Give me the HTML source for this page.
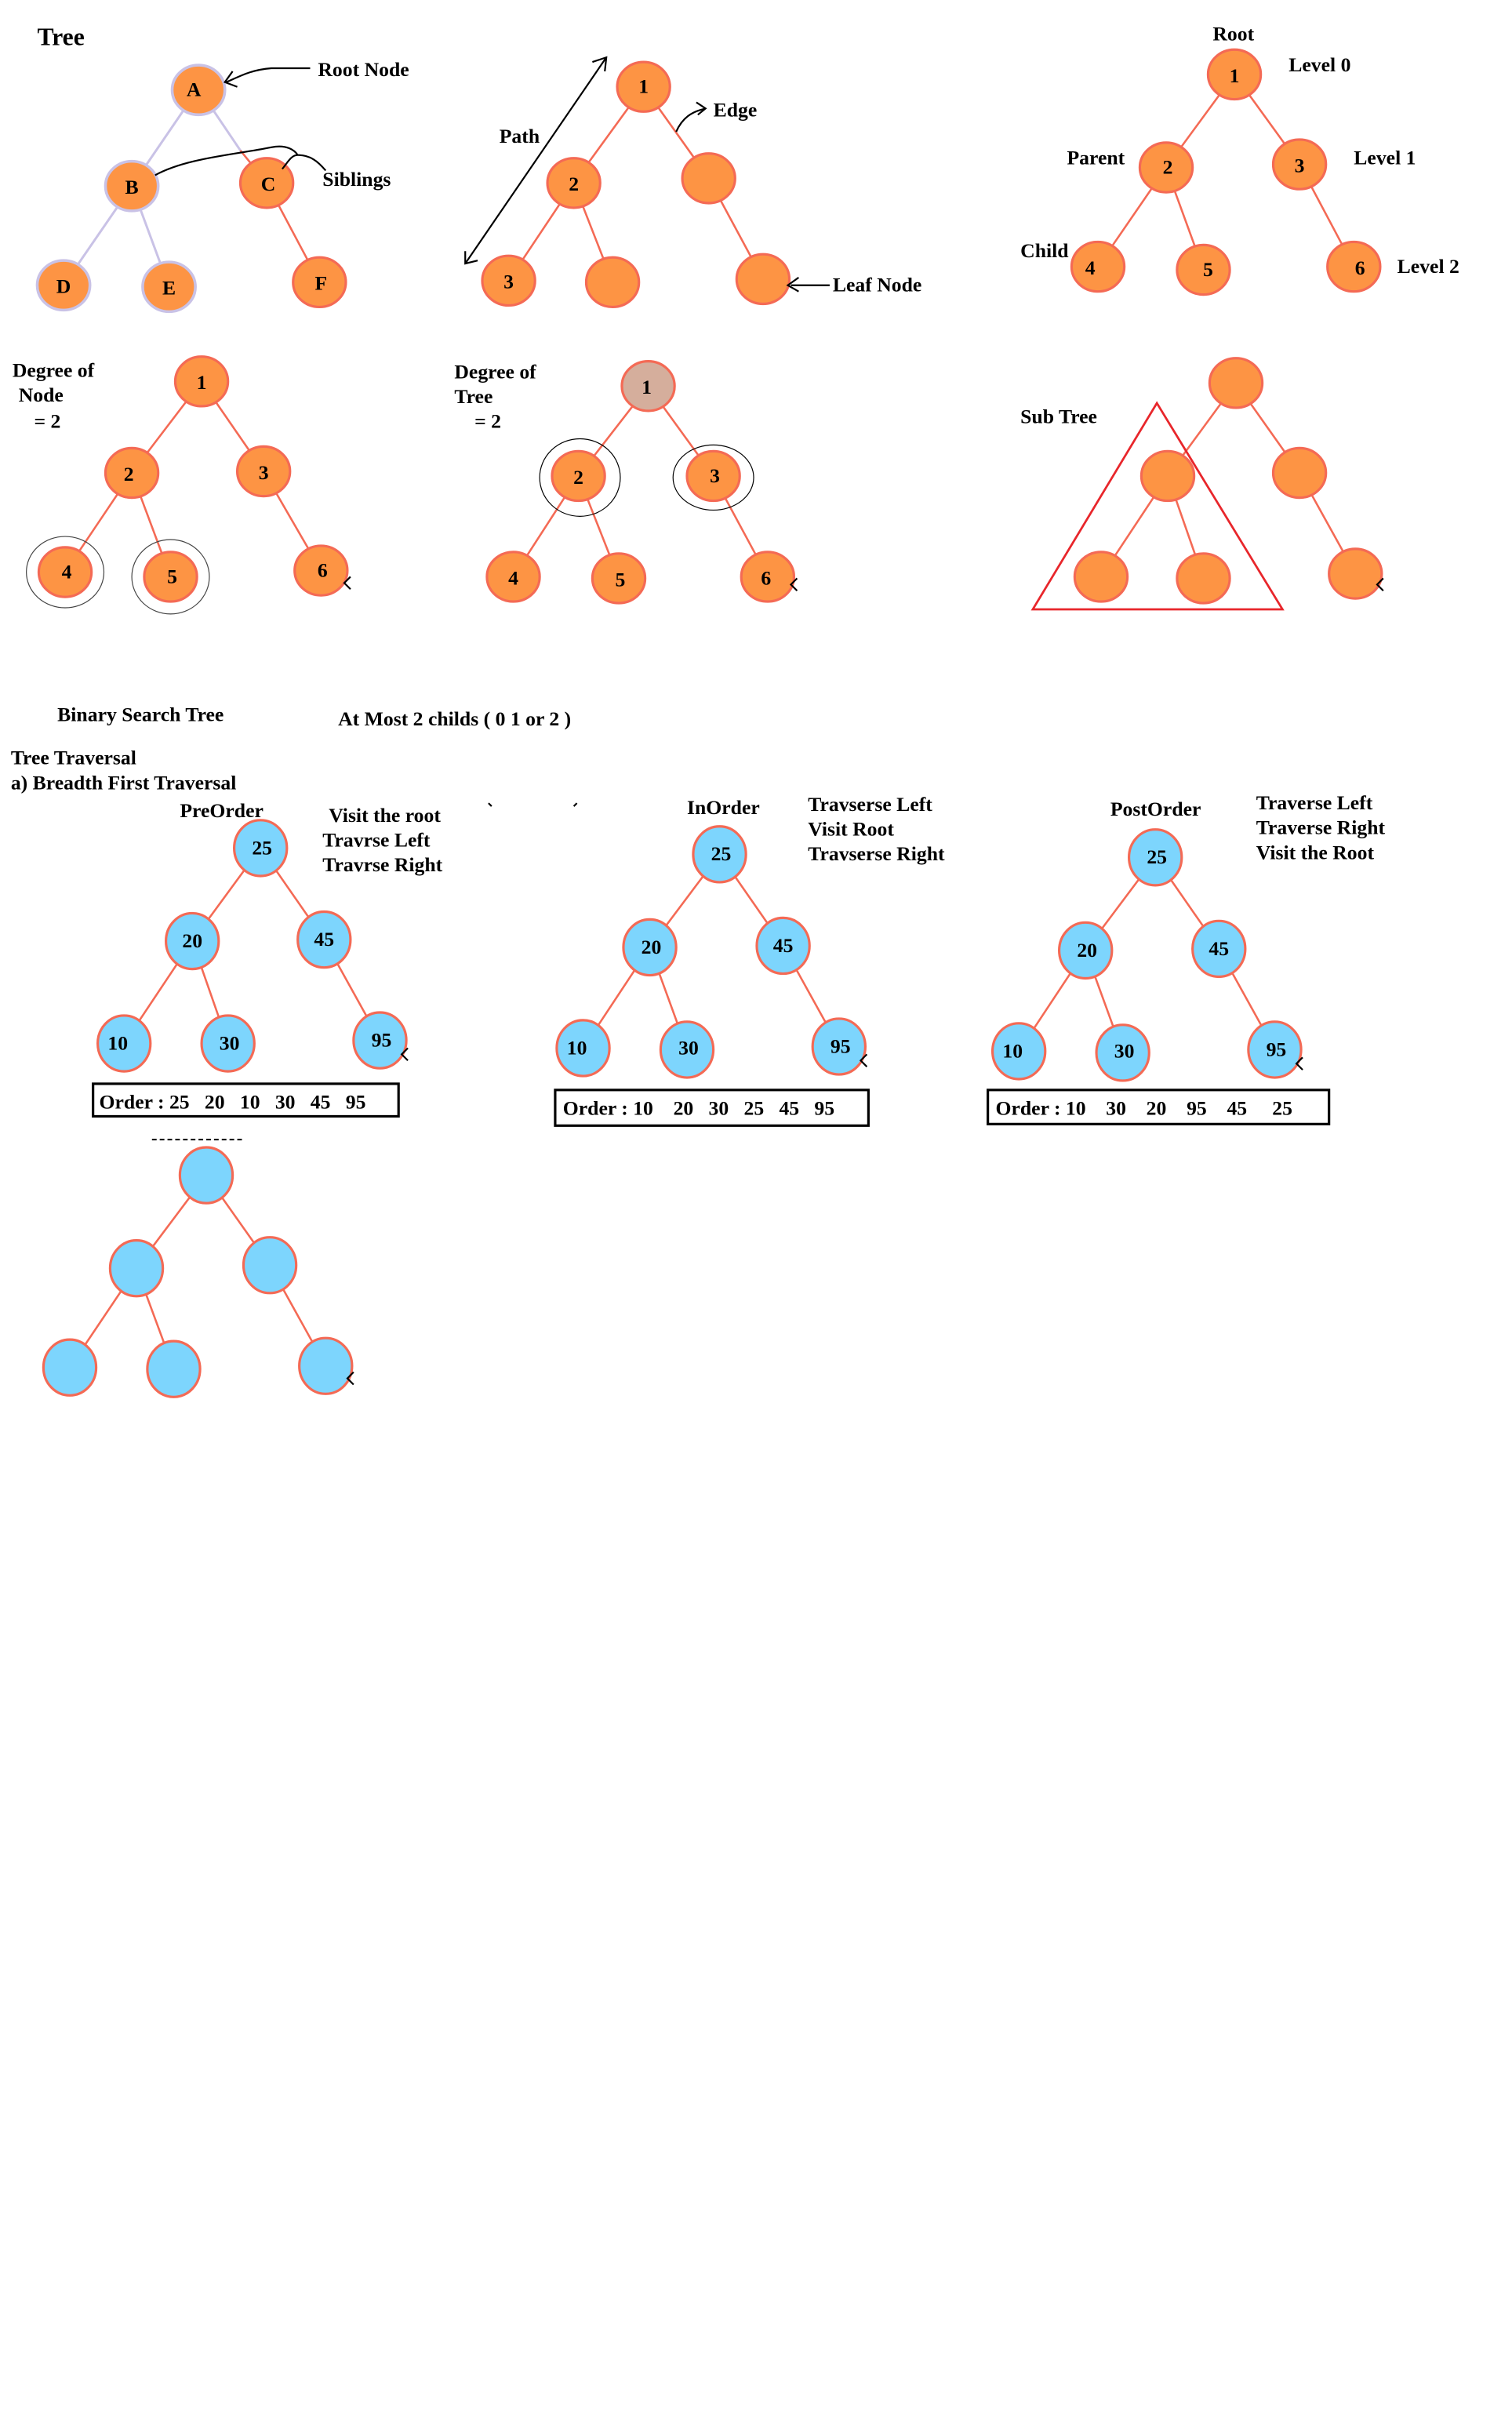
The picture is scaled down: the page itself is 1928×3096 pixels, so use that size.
<!DOCTYPE html>
<html><head><meta charset="utf-8">
<style>
html,body{margin:0;padding:0;background:#fff;}
svg{display:block;}
text{font-family:"Liberation Serif",serif;font-weight:bold;fill:#000;}
</style></head>
<body>
<svg width="1928" height="3096" viewBox="0 0 975 1566" preserveAspectRatio="none" xmlns="http://www.w3.org/2000/svg">
<defs>
<style>
.o{fill:#fd9444;stroke:#f46a55;stroke-width:1.6;}
.ol{fill:#fd9444;stroke:#c9c2e6;stroke-width:1.8;}
.b{fill:#7dd5fd;stroke:#f46a55;stroke-width:1.6;}
.e{stroke:#f46a55;stroke-width:1.3;fill:none;}
.el{stroke:#c9c2e6;stroke-width:1.5;fill:none;}
.n{font-size:13px;text-anchor:middle;}
.t{font-size:13px;}
.k{stroke:#000;stroke-width:1.1;fill:none;}
</style>
</defs>

<!-- Tree 1 -->
<text x="24" y="29" style="font-size:16px">Tree</text>
<line class="el" x1="128" y1="57" x2="85" y2="120"/>
<line class="el" x1="128" y1="57" x2="155" y2="97"/>
<line class="e" x1="155" y1="97" x2="172" y2="118"/>
<line class="el" x1="85" y1="120" x2="41" y2="184"/>
<line class="el" x1="85" y1="120" x2="109" y2="185"/>
<line class="e" x1="172" y1="118" x2="206" y2="182"/>
<ellipse class="ol" cx="128" cy="58" rx="17" ry="16"/>
<ellipse class="ol" cx="85" cy="120" rx="17" ry="16"/>
<ellipse class="o" cx="172" cy="118" rx="17" ry="16"/>
<ellipse class="ol" cx="41" cy="184" rx="17" ry="16"/>
<ellipse class="ol" cx="109" cy="185" rx="17" ry="16"/>
<ellipse class="o" cx="206" cy="182" rx="17" ry="16"/>
<text class="n" x="125" y="62">A</text>
<text class="n" x="85" y="125">B</text>
<text class="n" x="173" y="123">C</text>
<text class="n" x="41" y="189">D</text>
<text class="n" x="109" y="190">E</text>
<text class="n" x="207" y="187">F</text>
<text class="t" x="205" y="49">Root Node</text>
<path class="k" d="M200,44 L175,44 C162,45 155,49 146,53 M150,46 L145,53 L153,56"/>
<text class="t" x="208" y="120">Siblings</text>
<path class="k" d="M100,113 C120,102 150,100 175,95 C185,93 190,97 192,100 M182,109 C186,104 188,100 192,100 C200,100 205,104 210,110"/>

<!-- Tree 2 -->
<line class="e" x1="415" y1="56" x2="370" y2="118"/>
<line class="e" x1="415" y1="56" x2="457" y2="115"/>
<line class="e" x1="370" y1="118" x2="328" y2="181"/>
<line class="e" x1="370" y1="118" x2="395" y2="182"/>
<line class="e" x1="457" y1="115" x2="492" y2="180"/>
<ellipse class="o" cx="415" cy="56" rx="17" ry="16"/>
<ellipse class="o" cx="370" cy="118" rx="17" ry="16"/>
<ellipse class="o" cx="457" cy="115" rx="17" ry="16"/>
<ellipse class="o" cx="328" cy="181" rx="17" ry="16"/>
<ellipse class="o" cx="395" cy="182" rx="17" ry="16"/>
<ellipse class="o" cx="492" cy="180" rx="17" ry="16"/>
<text class="n" x="415" y="60">1</text>
<text class="n" x="370" y="123">2</text>
<text class="n" x="328" y="186">3</text>
<path class="k" d="M300,170 L391,37 M382,40 L391,37 L390,46 M300,162 L300,170 L308,168"/>
<text class="t" x="322" y="92">Path</text>
<path class="k" d="M436,85 C440,76 446,72 455,70 M449,66 L455,70 L450,74"/>
<text class="t" x="460" y="75">Edge</text>
<path class="k" d="M535,184 L510,184 M515,179 L508,184 L515,188"/>
<text class="t" x="537" y="188">Leaf Node</text>

<!-- Tree 3 -->
<text class="t" x="782" y="26">Root</text>
<line class="e" x1="796" y1="48" x2="752" y2="108"/>
<line class="e" x1="796" y1="48" x2="838" y2="106"/>
<line class="e" x1="752" y1="108" x2="708" y2="172"/>
<line class="e" x1="752" y1="108" x2="776" y2="174"/>
<line class="e" x1="838" y1="106" x2="873" y2="172"/>
<ellipse class="o" cx="796" cy="48" rx="17" ry="16"/>
<ellipse class="o" cx="752" cy="108" rx="17" ry="16"/>
<ellipse class="o" cx="838" cy="106" rx="17" ry="16"/>
<ellipse class="o" cx="708" cy="172" rx="17" ry="16"/>
<ellipse class="o" cx="776" cy="174" rx="17" ry="16"/>
<ellipse class="o" cx="873" cy="172" rx="17" ry="16"/>
<text class="n" x="796" y="53">1</text>
<text class="n" x="753" y="112">2</text>
<text class="n" x="838" y="111">3</text>
<text class="n" x="703" y="177">4</text>
<text class="n" x="779" y="178">5</text>
<text class="n" x="877" y="177">6</text>
<text class="t" x="831" y="46">Level 0</text>
<text class="t" x="688" y="106">Parent</text>
<text class="t" x="873" y="106">Level 1</text>
<text class="t" x="658" y="166">Child</text>
<text class="t" x="901" y="176">Level 2</text>

<!-- Degree of Node -->
<text class="t" x="8" y="243">Degree of</text>
<text class="t" x="12" y="259">Node</text>
<text class="t" x="22" y="276">= 2</text>
<line class="e" x1="130" y1="246" x2="85" y2="305"/>
<line class="e" x1="130" y1="246" x2="170" y2="304"/>
<line class="e" x1="85" y1="305" x2="42" y2="369"/>
<line class="e" x1="85" y1="305" x2="110" y2="372"/>
<line class="e" x1="170" y1="304" x2="207" y2="368"/>
<ellipse class="o" cx="130" cy="246" rx="17" ry="16"/>
<ellipse class="o" cx="85" cy="305" rx="17" ry="16"/>
<ellipse class="o" cx="170" cy="304" rx="17" ry="16"/>
<ellipse class="o" cx="42" cy="369" rx="17" ry="16"/>
<ellipse class="o" cx="110" cy="372" rx="17" ry="16"/>
<ellipse class="o" cx="207" cy="368" rx="17" ry="16"/>
<ellipse cx="42" cy="369" rx="25" ry="23" fill="none" stroke="#444" stroke-width="0.6"/>
<ellipse cx="110" cy="372" rx="25" ry="24" fill="none" stroke="#444" stroke-width="0.6"/>
<text class="n" x="130" y="251">1</text>
<text class="n" x="83" y="310">2</text>
<text class="n" x="170" y="309">3</text>
<text class="n" x="43" y="373">4</text>
<text class="n" x="111" y="376">5</text>
<text class="n" x="208" y="372">6</text>
<path class="k" d="M226,372 L222,376 L226,380"/>

<!-- Degree of Tree -->
<text class="t" x="293" y="244">Degree of</text>
<text class="t" x="293" y="260">Tree</text>
<text class="t" x="306" y="276">= 2</text>
<line class="e" x1="418" y1="249" x2="373" y2="307"/>
<line class="e" x1="418" y1="249" x2="460" y2="307"/>
<line class="e" x1="373" y1="307" x2="331" y2="372"/>
<line class="e" x1="373" y1="307" x2="399" y2="373"/>
<line class="e" x1="460" y1="307" x2="495" y2="372"/>
<ellipse cx="418" cy="249" rx="17" ry="16" fill="#d5ae9c" stroke="#f46a55" stroke-width="1.6"/>
<ellipse class="o" cx="373" cy="307" rx="17" ry="16"/>
<ellipse class="o" cx="460" cy="307" rx="17" ry="16"/>
<ellipse class="o" cx="331" cy="372" rx="17" ry="16"/>
<ellipse class="o" cx="399" cy="373" rx="17" ry="16"/>
<ellipse class="o" cx="495" cy="372" rx="17" ry="16"/>
<ellipse cx="374" cy="308" rx="26" ry="25" fill="none" stroke="#000" stroke-width="0.6"/>
<ellipse cx="460" cy="308" rx="26" ry="21" fill="none" stroke="#000" stroke-width="0.6"/>
<text class="n" x="417" y="254">1</text>
<text class="n" x="373" y="312">2</text>
<text class="n" x="461" y="311">3</text>
<text class="n" x="331" y="377">4</text>
<text class="n" x="400" y="378">5</text>
<text class="n" x="494" y="377">6</text>
<path class="k" d="M514,373 L510,377 L514,381"/>

<!-- Sub tree -->
<text class="t" x="658" y="273">Sub Tree</text>
<line class="e" x1="797" y1="247" x2="753" y2="307"/>
<line class="e" x1="797" y1="247" x2="838" y2="305"/>
<line class="e" x1="753" y1="307" x2="710" y2="372"/>
<line class="e" x1="753" y1="307" x2="776" y2="373"/>
<line class="e" x1="838" y1="305" x2="874" y2="370"/>
<ellipse class="o" cx="797" cy="247" rx="17" ry="16"/>
<ellipse class="o" cx="753" cy="307" rx="17" ry="16"/>
<ellipse class="o" cx="838" cy="305" rx="17" ry="16"/>
<ellipse class="o" cx="710" cy="372" rx="17" ry="16"/>
<ellipse class="o" cx="776" cy="373" rx="17" ry="16"/>
<ellipse class="o" cx="874" cy="370" rx="17" ry="16"/>
<polygon points="666,393 746,260 827,393" fill="none" stroke="#e8262b" stroke-width="1.4"/>
<path class="k" d="M892,373 L888,377 L892,381"/>

<!-- headers -->
<text class="t" x="37" y="465">Binary Search Tree</text>
<text class="t" x="218" y="468">At Most 2 childs ( 0 1 or 2 )</text>
<text class="t" x="7" y="493">Tree Traversal</text>
<text class="t" x="7" y="509">a) Breadth First Traversal</text>
<path class="k" d="M315,518 L317,520 M372,518 L370,520" stroke-width="0.8"/>

<!-- PreOrder -->
<text class="t" x="116" y="527">PreOrder</text>
<text class="t" x="212" y="530">Visit the root</text>
<text class="t" x="208" y="546">Travrse Left</text>
<text class="t" x="208" y="562">Travrse Right</text>
<line class="e" x1="168" y1="547" x2="124" y2="607"/>
<line class="e" x1="168" y1="547" x2="209" y2="606"/>
<line class="e" x1="124" y1="607" x2="80" y2="673"/>
<line class="e" x1="124" y1="607" x2="147" y2="673"/>
<line class="e" x1="209" y1="606" x2="245" y2="671"/>
<ellipse class="b" cx="168" cy="547" rx="17" ry="18"/>
<ellipse class="b" cx="124" cy="607" rx="17" ry="18"/>
<ellipse class="b" cx="209" cy="606" rx="17" ry="18"/>
<ellipse class="b" cx="80" cy="673" rx="17" ry="18"/>
<ellipse class="b" cx="147" cy="673" rx="17" ry="18"/>
<ellipse class="b" cx="245" cy="671" rx="17" ry="18"/>
<text class="n" x="169" y="551">25</text>
<text class="n" x="124" y="611">20</text>
<text class="n" x="209" y="610">45</text>
<text class="n" x="76" y="677">10</text>
<text class="n" x="148" y="677">30</text>
<text class="n" x="246" y="675">95</text>
<path class="k" d="M263,676 L259,680 L263,684"/>
<rect x="60" y="699" width="197" height="21" fill="none" stroke="#000" stroke-width="1.6"/>
<text class="t" x="64" y="715" xml:space="preserve">Order : 25   20   10   30   45   95</text>

<!-- InOrder -->
<text class="t" x="443" y="525">InOrder</text>
<text class="t" x="521" y="523">Travserse Left</text>
<text class="t" x="521" y="539">Visit Root</text>
<text class="t" x="521" y="555">Travserse Right</text>
<line class="e" x1="464" y1="551" x2="419" y2="611"/>
<line class="e" x1="464" y1="551" x2="505" y2="610"/>
<line class="e" x1="419" y1="611" x2="376" y2="676"/>
<line class="e" x1="419" y1="611" x2="443" y2="677"/>
<line class="e" x1="505" y1="610" x2="541" y2="675"/>
<ellipse class="b" cx="464" cy="551" rx="17" ry="18"/>
<ellipse class="b" cx="419" cy="611" rx="17" ry="18"/>
<ellipse class="b" cx="505" cy="610" rx="17" ry="18"/>
<ellipse class="b" cx="376" cy="676" rx="17" ry="18"/>
<ellipse class="b" cx="443" cy="677" rx="17" ry="18"/>
<ellipse class="b" cx="541" cy="675" rx="17" ry="18"/>
<text class="n" x="465" y="555">25</text>
<text class="n" x="420" y="615">20</text>
<text class="n" x="505" y="614">45</text>
<text class="n" x="372" y="680">10</text>
<text class="n" x="444" y="680">30</text>
<text class="n" x="542" y="679">95</text>
<path class="k" d="M559,680 L555,684 L559,688"/>
<rect x="358" y="703" width="202" height="23" fill="none" stroke="#000" stroke-width="1.6"/>
<text class="t" x="363" y="719" xml:space="preserve">Order : 10    20   30   25   45   95</text>

<!-- PostOrder -->
<text class="t" x="716" y="526">PostOrder</text>
<text class="t" x="810" y="522">Traverse Left</text>
<text class="t" x="810" y="538">Traverse Right</text>
<text class="t" x="810" y="554">Visit the Root</text>
<line class="e" x1="745" y1="553" x2="700" y2="613"/>
<line class="e" x1="745" y1="553" x2="786" y2="612"/>
<line class="e" x1="700" y1="613" x2="657" y2="678"/>
<line class="e" x1="700" y1="613" x2="724" y2="679"/>
<line class="e" x1="786" y1="612" x2="822" y2="677"/>
<ellipse class="b" cx="745" cy="553" rx="17" ry="18"/>
<ellipse class="b" cx="700" cy="613" rx="17" ry="18"/>
<ellipse class="b" cx="786" cy="612" rx="17" ry="18"/>
<ellipse class="b" cx="657" cy="678" rx="17" ry="18"/>
<ellipse class="b" cx="724" cy="679" rx="17" ry="18"/>
<ellipse class="b" cx="822" cy="677" rx="17" ry="18"/>
<text class="n" x="746" y="557">25</text>
<text class="n" x="701" y="617">20</text>
<text class="n" x="786" y="616">45</text>
<text class="n" x="653" y="682">10</text>
<text class="n" x="725" y="682">30</text>
<text class="n" x="823" y="681">95</text>
<path class="k" d="M840,682 L836,686 L840,690"/>
<rect x="637" y="703" width="220" height="22" fill="none" stroke="#000" stroke-width="1.6"/>
<text class="t" x="642" y="719" xml:space="preserve">Order : 10    30    20    95    45     25</text>

<!-- bottom blank tree -->
<path d="M98,735 L158,735" stroke="#000" stroke-width="1" stroke-dasharray="3,2"/>
<line class="e" x1="133" y1="758" x2="88" y2="818"/>
<line class="e" x1="133" y1="758" x2="174" y2="816"/>
<line class="e" x1="88" y1="818" x2="45" y2="882"/>
<line class="e" x1="88" y1="818" x2="112" y2="883"/>
<line class="e" x1="174" y1="816" x2="210" y2="881"/>
<ellipse class="b" cx="133" cy="758" rx="17" ry="18"/>
<ellipse class="b" cx="88" cy="818" rx="17" ry="18"/>
<ellipse class="b" cx="174" cy="816" rx="17" ry="18"/>
<ellipse class="b" cx="45" cy="882" rx="17" ry="18"/>
<ellipse class="b" cx="112" cy="883" rx="17" ry="18"/>
<ellipse class="b" cx="210" cy="881" rx="17" ry="18"/>
<path class="k" d="M228,885 L224,889 L228,893"/>
</svg>
</body></html>
